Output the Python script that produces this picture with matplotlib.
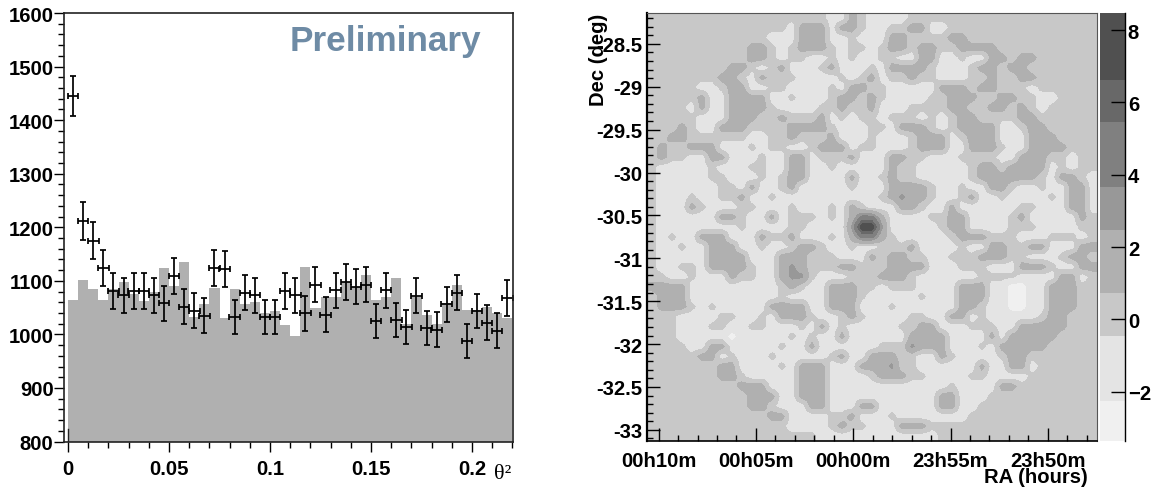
import numpy as np
import matplotlib
matplotlib.use('Agg')
import matplotlib.pyplot as plt
from matplotlib.colors import ListedColormap, BoundaryNorm
from matplotlib.ticker import MultipleLocator, FixedLocator

plt.rcParams['font.family'] = ['Liberation Sans', 'DejaVu Sans']
plt.rcParams['font.weight'] = 'bold'

# theta^2 histogram, bins of 0.005
bin_edges = np.arange(45) * 0.005
on_counts = [1445, 1212, 1175, 1124, 1081, 1073, 1081, 1081, 1073, 1058, 1109,
             1052, 1044, 1035, 1124, 1122, 1032, 1078, 1073, 1032, 1032, 1081,
             1073, 1039, 1093, 1037, 1082, 1098, 1089, 1093, 1025, 1082, 1027,
             1014, 1072, 1012, 1009, 1056, 1078, 988, 1044, 1022, 1007, 1068]
on_err = [38, 35, 34, 34, 33, 33, 33, 33, 33, 33, 33,
          33, 33, 32, 34, 34, 32, 33, 33, 32, 32, 33,
          33, 32, 33, 32, 33, 33, 33, 33, 32, 33, 32,
          32, 33, 32, 32, 33, 33, 32, 32, 32, 32, 33]
off_counts = [1065, 1101, 1085, 1064, 1085, 1098, 1075, 1062, 1080, 1123, 1090,
              1135, 1033, 1056, 1087, 1031, 1084, 1056, 1061, 1039, 1044, 1017,
              997, 1125, 1050, 1070, 1070, 1098, 1089, 1110, 1065, 1070, 1105,
              1020, 1070, 1036, 1020, 1058, 1092, 1045, 1045, 1051, 1039, 1031]

# significance map, one digit per cell (index into level_values)
level_values = [-3, -1, 0, 1.5, 3, 4.5, 6, 8]
map_rows = [
    "222222222222222222113211112222222222222222222",
    "222222222222221333133211223311222222222222222",
    "222222222222111333112111332222332222222222222",
    "222222222233212333212212332332233332222222222",
    "222222222233212211212112211331121133233222222",
    "222222223321231112311121333321112332332222222",
    "222222233213222111121231223221112232233222222",
    "222221123311221111213322111113332332221222222",
    "222223113333112111233232111122333223322112222",
    "222213113333211112232231112222332233232122222",
    "222221113332232223121221222121233222233222222",
    "222321133322223333211122133321233331123322222",
    "223322222211223222311121112333123331113332222",
    "232233311121221123331221112333113332113333222",
    "232211331112113312223111332211122221133322122",
    "211111211122113311211111322111112332333312122",
    "211111221112123311113112322111112333333213321",
    "211111122131123111112111333321121133211211331",
    "211121122311211111111112343321123112111121331",
    "211132111221112111213211133211311111122111331",
    "211111133211312221213553111122331111231111132",
    "211111111211112211114774111112331111222111122",
    "212113331113223111213553211111233322211122212",
    "211211333112112332112112223111121133223311133",
    "211111333311133322211132332211222333221112332",
    "211221333321134322233222333311122211133321133",
    "221121113221134421112223332111111222211113312",
    "333311111111123211333221222111133311001133322",
    "233311111111121111333211111211133311001133322",
    "233321211111333311333111211111133211001133322",
    "222111122112133321123211112211331211111233222",
    "222111221122111213121111122331112221133333222",
    "222111110111112121131111113333111131333332222",
    "222211331111121131111112224333111213333322222",
    "222223312111211111231133322113211112332222222",
    "222222233111121333111333422111111311331222222",
    "222222233211111333111123332211112211112222222",
    "222222222333111333111111111111211113322222222",
    "222222222233311333111111111113311122222222222",
    "222222222233211133111331111113311222222222222",
    "222222222222331111223111211111112222222222222",
    "222222222222221111232211133322222222222222222",
    "222222222222222221111111111112222222222222222",
]
level_edges = [-3.36, -2.2, -0.4, 0.78, 2.52, 3.72, 5.5, 6.67, 8.47]
level_colors = ['#f0f0f0', '#e4e4e4', '#c8c8c8', '#b0b0b0', '#989898', '#808080', '#686868', '#505050']
dec_ticks = [-28.5, -29, -29.5, -30, -30.5, -31, -31.5, -32, -32.5, -33]
dec_labels = ['-28.5', '-29', '-29.5', '-30', '-30.5', '-31', '-31.5', '-32', '-32.5', '-33']
ra_ticks = [10, 5, 0, -5, -10]
ra_labels = ['00h10m', '00h05m', '00h00m', '23h55m', '23h50m']
z_ticks = [-2, 0, 2, 4, 6, 8]

W, H = 1155, 489
fig = plt.figure(figsize=(W / 100, H / 100), dpi=100)

def pix_axes(x0, y0, x1, y1):
    # pixel box measured from the top left corner
    return fig.add_axes([x0 / W, 1 - y1 / H, (x1 - x0) / W, (y1 - y0) / H])

FS = 14.6

# --- left panel ---
ax1 = pix_axes(64, 14, 513, 442.5)
ax1.stairs(off_counts, bin_edges, baseline=800, fill=True, color='#b0b0b0', lw=0)
centers = (bin_edges[:-1] + bin_edges[1:]) / 2
ax1.errorbar(centers, on_counts, yerr=on_err, xerr=0.0026, fmt='none', ecolor='black',
             elinewidth=1.25, capsize=2.2, capthick=1.25)
ax1.axvline(0, ymax=0.03, color='#222222', lw=1)
ax1.set_xlim(-0.002, 0.2203)
ax1.set_ylim(800, 1600)
ax1.xaxis.set_major_locator(FixedLocator([0, 0.05, 0.1, 0.15, 0.2]))
ax1.set_xticklabels(['0', '0.05', '0.1', '0.15', '0.2'], fontsize=FS)
ax1.xaxis.set_minor_locator(MultipleLocator(0.01))
ax1.yaxis.set_major_locator(MultipleLocator(100))
ax1.yaxis.set_minor_locator(MultipleLocator(20))
ax1.tick_params(axis='both', which='major', length=7.5, width=1, labelsize=FS, pad=0)
ax1.tick_params(axis='both', which='minor', length=4, width=1)
ax1.tick_params(axis='x', which='major', pad=5)
for s in ax1.spines.values():
    s.set_linewidth(1.2)
    s.set_color('#222222')
fig.text(385 / W, 1 - 41 / H, 'Preliminary', color='#6e8ba5', fontsize=25.3, ha='center', va='center')
fig.text(503 / W, 1 - 475 / H, 'θ²', fontsize=16, family='Liberation Serif', weight='normal',
         ha='center', va='center')

# --- right panel ---
ax2 = pix_axes(647, 14, 1097, 442)
grid = np.array([[level_values[int(c)] for c in row.ljust(45, '2')[:45]] for row in map_rows])
cmap = ListedColormap(level_colors)
norm = BoundaryNorm(level_edges, cmap.N)
img = ax2.imshow(grid, cmap=cmap, norm=norm, extent=(10.6, -12.53, -33.13, -28.14), aspect='auto',
                 interpolation='bilinear', interpolation_stage='data')
ax2.set_xlim(10.6, -12.53)
ax2.set_ylim(-33.13, -28.14)
ax2.set_xticks(ra_ticks)
ax2.set_xticklabels(ra_labels, fontsize=FS)
ax2.xaxis.set_minor_locator(MultipleLocator(1))
ax2.set_yticks(dec_ticks)
ax2.set_yticklabels(dec_labels, fontsize=FS)
ax2.yaxis.set_minor_locator(MultipleLocator(0.1))
ax2.tick_params(axis='both', which='major', direction='in', length=9.5, width=1, pad=3)
ax2.tick_params(axis='both', which='minor', direction='in', length=4.5, width=1)
ax2.tick_params(axis='x', which='major', pad=7)
ax2.spines['left'].set_linewidth(1.6)
ax2.spines['bottom'].set_linewidth(1.2)
ax2.spines['top'].set_color('#555555')
ax2.spines['right'].set_color('#555555')
fig.text(599 / W, 1 - 60 / H, 'Dec (deg)', rotation=90, fontsize=FS, ha='center', va='center')
fig.text(1036 / W, 1 - 478 / H, 'RA (hours)', fontsize=FS, ha='center', va='center')

# --- colour bar ---
cax = pix_axes(1100, 14, 1125, 442)
cb = fig.colorbar(img, cax=cax, spacing='proportional', drawedges=False)
cb.outline.set_visible(False)
cb.solids.set_edgecolor('face')
cb.set_ticks(z_ticks)
cb.ax.minorticks_off()
cax.set_ylim(-3.36, 8.47)
cax.tick_params(axis='y', direction='in', length=10, width=1, pad=2, labelsize=FS)
cax.spines['right'].set_visible(True)
cax.spines['right'].set_linewidth(1)

fig.savefig('out.png', dpi=100)
